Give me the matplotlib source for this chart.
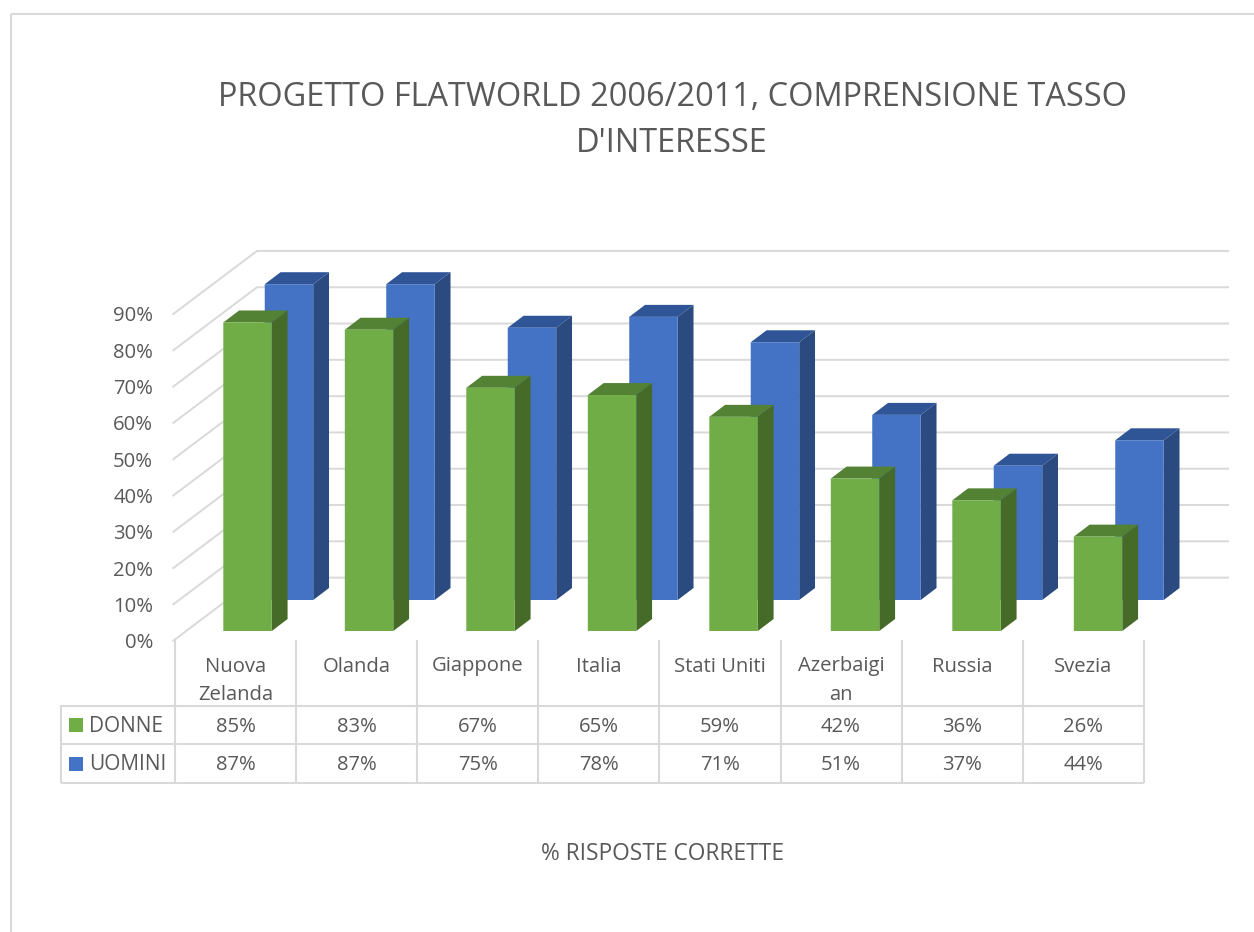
import matplotlib
matplotlib.use("Agg")
import matplotlib.pyplot as plt
from matplotlib.transforms import Affine2D

plt.rcParams['font.family'] = ['Open Sans', 'DejaVu Sans']

WIDTH, HEIGHT = 1254, 932

categories = ["Nuova\nZelanda", "Olanda", "Giappone", "Italia", "Stati Uniti",
              "Azerbaigi\nan", "Russia", "Svezia"]
donne = [85, 83, 67, 65, 59, 42, 36, 26]
uomini = [87, 87, 75, 78, 71, 51, 37, 44]
axis_ticks = [0, 10, 20, 30, 40, 50, 60, 70, 80, 90]
title = "PROGETTO FLATWORLD 2006/2011, COMPRENSIONE TASSO\nD'INTERESSE"
axis_title = "% RISPOSTE CORRETTE"

TEXT = "#595959"
GRID = "#D9D9D9"
GREEN = ("#70AD47", "#548235", "#466B29")
BLUE = ("#4472C4", "#2F5597", "#2A4A80")

# Scale of the value axes, expressed in figure pixels
PX_PER_CAT = 121.5
PX_PER_PCT = 3.63
X0_PX = 247.55
Y0_PX = 631.0

fig = plt.figure(figsize=(WIDTH / 100, HEIGHT / 100), dpi=100, facecolor="white")
ax = fig.add_axes([0, 0, 1, 1])
ax.set_xlim(-X0_PX / PX_PER_CAT, (WIDTH - X0_PX) / PX_PER_CAT)
ax.set_ylim((Y0_PX - HEIGHT) / PX_PER_PCT, Y0_PX / PX_PER_PCT)
ax.axis("off")

# Overlay transform for the frame, the data table and free text (y grows downwards)
px = Affine2D().scale(1 / WIDTH, -1 / HEIGHT).translate(0, 1) + fig.transFigure


def hline(x0, x1, y, lw=1.5):
    ax.plot([x0, x1], [y, y], color=GRID, lw=lw, transform=px, solid_capstyle="butt", zorder=1)


def vline(x, y0, y1, lw=1.5):
    ax.plot([x, x], [y0, y1], color=GRID, lw=lw, transform=px, solid_capstyle="butt", zorder=1)


# Chart frame, open at the right and bottom edges
hline(10.5, WIDTH, 14)
vline(11, 14, HEIGHT)

# Walls of the 3D plot: diagonal side wall plus horizontal back wall
WALL_FRONT_X, WALL_BACK_X, WALL_RIGHT_X = -0.611, 0.0778, 8.07
WALL_FRONT_DY, WALL_BACK_DY = -2.67, 14.7
for tick in axis_ticks:
    ax.plot([WALL_FRONT_X, WALL_BACK_X, WALL_RIGHT_X],
            [tick + WALL_FRONT_DY, tick + WALL_BACK_DY, tick + WALL_BACK_DY],
            color=GRID, lw=1.4, zorder=1, solid_joinstyle="miter")
    ax.text(WALL_FRONT_X - 0.167, tick + WALL_FRONT_DY, f"{tick}%", ha="right",
            va="center_baseline", color=TEXT, fontsize=14.6)

# 3D columns: front face from the bar, top and side faces offset by the depth
BAR_W = 0.399
DEPTH_X, DEPTH_Y = 0.13, 3.3


def columns(values, x_shift, base, colours, zorder):
    front, top, side = colours
    for i, v in enumerate(values):
        left = i - BAR_W / 2 + x_shift
        right = left + BAR_W
        high = base + v
        ax.fill([left, right, right + DEPTH_X, left + DEPTH_X],
                [high, high, high + DEPTH_Y, high + DEPTH_Y],
                color=top, lw=0, zorder=zorder)
        ax.fill([right, right + DEPTH_X, right + DEPTH_X, right],
                [base, base + DEPTH_Y, high + DEPTH_Y, high],
                color=side, lw=0, zorder=zorder)
        ax.bar(left, v, width=BAR_W, bottom=base, align="edge", color=front,
               lw=0, zorder=zorder, snap=False)


columns(uomini, 0.341, 8.54, BLUE, 2)
columns(donne, 0.0, 0.0, GREEN, 3)

# Data table below the plot
TABLE_XS = [175 + 121.1 * i for i in range(len(categories) + 1)]
hline(61, TABLE_XS[-1], 706)
hline(61, TABLE_XS[-1], 744.3)
hline(61, TABLE_XS[-1], 782.7)
vline(61, 705.3, 783.4)
for xp in TABLE_XS:
    vline(xp, 640, 783.4)

rows = [("DONNE", donne, GREEN[0], 725), ("UOMINI", uomini, BLUE[0], 763.5)]
for name, values, colour, yc in rows:
    ax.fill([69, 83, 83, 69], [yc - 7, yc - 7, yc + 7, yc + 7], color=colour, lw=0,
            transform=px, zorder=3)
    ax.text(89, yc + 1, name, transform=px, ha="left", va="center", color=TEXT, fontsize=15)
    for i, v in enumerate(values):
        ax.text((TABLE_XS[i] + TABLE_XS[i + 1]) / 2, yc + 1.5, f"{v}%", transform=px,
                ha="center", va="center", color=TEXT, fontsize=14.6)

for i, label in enumerate(categories):
    for j, part in enumerate(label.split("\n")):
        ax.text((TABLE_XS[i] + TABLE_XS[i + 1]) / 2, 666.5 + 29 * j, part, transform=px,
                ha="center", va="center", color=TEXT, fontsize=14.6)

# Titles
for line, yc in zip(title.split("\n"), (97, 144)):
    ax.text(672, yc, line, transform=px, ha="center", va="center", color=TEXT, fontsize=23.4)
ax.text(663, 854, axis_title, transform=px, ha="center", va="center", color=TEXT, fontsize=16.4)

fig.savefig("out.png", dpi=100)
